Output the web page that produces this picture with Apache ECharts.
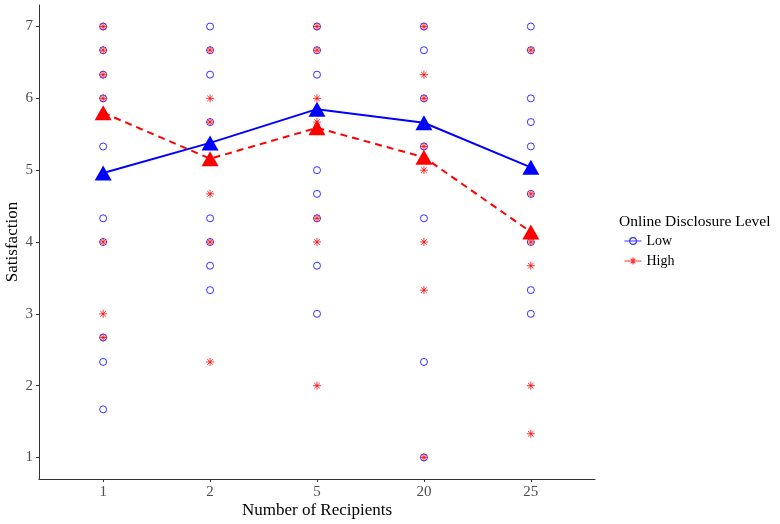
<!DOCTYPE html>
<html>
<head>
<meta charset="utf-8">
<script src="https://cdn.jsdelivr.net/npm/echarts@6/dist/echarts.min.js"></script>
<style>html,body{margin:0;padding:0;background:#fff}#c{width:780px;height:524px}</style>
</head>
<body>
<div id="c"></div>
<script>
// Categories (Number of Recipients)
var categories = ['1', '2', '5', '20', '25'];
var yTicks = [1, 2, 3, 4, 5, 6, 7];

// Individual observations, Low disclosure (per category)
var lowC1 = [7, 6.67, 6.33, 6, 5.33, 4.33, 4, 2.67, 2.33, 1.67];
var lowC2 = [7, 6.67, 6.33, 5.67, 4.33, 4, 3.67, 3.33];
var lowC5 = [7, 6.67, 6.33, 5, 4.67, 4.33, 3.67, 3];
var lowC20 = [7, 6.67, 6, 5.33, 4.33, 2.33, 1];
var lowC25 = [7, 6.67, 6, 5.67, 5.33, 4.67, 4, 3.33, 3];

// Individual observations, High disclosure (per category)
var highC1 = [7, 6.67, 6.33, 6, 4, 3, 2.67];
var highC2 = [6.67, 6, 5.67, 4.67, 4, 2.33];
var highC5 = [7, 6.67, 6, 5.67, 4.33, 4, 2];
var highC20 = [7, 6.33, 6, 5.33, 5, 4, 3.33, 1];
var highC25 = [6.67, 4.67, 4, 3.67, 2, 1.33];

// Means
var lowMeans = [4.96, 5.38, 5.85, 5.66, 5.04];
var highMeans = [5.80, 5.16, 5.59, 5.18, 4.14];

var lowGroups = [lowC1, lowC2, lowC5, lowC20, lowC25];
var highGroups = [highC1, highC2, highC5, highC20, highC25];

function toPoints(groups) {
  var out = [];
  groups.forEach(function (g, i) {
    g.forEach(function (v) { out.push([i + 1, v]); });
  });
  return out;
}
function meanPoints(arr) {
  return arr.map(function (v, i) { return [i + 1, v]; });
}

var FONT = 'Liberation Serif';
var BLUE = '#0000ff';
var RED = '#ff0000';
var asterisk = 'path://M5,0L5,10M0,5L10,5M1.5,1.5L8.5,8.5M8.5,1.5L1.5,8.5';
var lowIcon = 'path://M0,5L20,5M14,5A4,4,0,1,1,6,5A4,4,0,1,1,14,5';
var highIcon = 'path://M0,5L20,5M10,1L10,9M6,5L14,5M7.2,2.2L12.8,7.8M12.8,2.2L7.2,7.8';

var chart = echarts.init(document.getElementById('c'), null, {renderer: 'canvas'});
chart.setOption({
  animation: false,
  backgroundColor: '#ffffff',
  title: {
    text: 'Online Disclosure Level',
    left: 619,
    top: 214,
    padding: 0,
    textStyle: {fontFamily: FONT, fontSize: 15.5, fontWeight: 'normal', color: '#000'}
  },
  legend: {
    orient: 'vertical',
    left: 622,
    top: 234,
    padding: 0,
    itemWidth: 17,
    itemHeight: 9,
    itemGap: 6,
    selectedMode: false,
    textStyle: {fontFamily: FONT, fontSize: 14, color: '#000'},
    data: [
      {name: 'Low', icon: lowIcon, itemStyle: {color: 'none', borderColor: BLUE, borderWidth: 1.2}},
      {name: 'High', icon: highIcon, itemStyle: {color: 'none', borderColor: RED, borderWidth: 1.2}}
    ]
  },
  grid: {left: 39, right: 185, top: 5, bottom: 45, outerBoundsMode: 'none', containLabel: false},
  xAxis: {
    type: 'value',
    min: 0.4,
    max: 5.6,
    name: 'Number of Recipients',
    nameLocation: 'middle',
    nameGap: 23,
    nameMoveOverlap: false,
    nameTextStyle: {fontFamily: FONT, fontSize: 17, color: '#000'},
    axisLine: {show: true, lineStyle: {color: '#333', width: 1}},
    axisTick: {show: true, length: 3, customValues: [1, 2, 3, 4, 5], lineStyle: {color: '#333'}},
    axisLabel: {
      customValues: [1, 2, 3, 4, 5],
      margin: 6,
      fontFamily: FONT, fontSize: 15, color: '#4d4d4d',
      formatter: function (v) { return categories[Math.round(v) - 1]; }
    },
    splitLine: {show: false}
  },
  yAxis: {
    type: 'value',
    min: 0.7,
    max: 7.3,
    name: 'Satisfaction',
    nameLocation: 'middle',
    nameGap: 18,
    nameMoveOverlap: false,
    nameRotate: 90,
    nameTextStyle: {fontFamily: FONT, fontSize: 17, color: '#000'},
    axisLine: {show: true, lineStyle: {color: '#333', width: 1}},
    axisTick: {show: true, length: 3, customValues: yTicks, lineStyle: {color: '#333'}},
    axisLabel: {
      customValues: yTicks,
      margin: 6,
      fontFamily: FONT, fontSize: 15, color: '#4d4d4d'
    },
    splitLine: {show: false}
  },
  series: [
    {
      name: 'Low',
      type: 'scatter',
      symbol: 'circle',
      symbolSize: 7,
      itemStyle: {color: 'transparent', borderColor: BLUE, borderWidth: 1},
      data: toPoints(lowGroups),
      z: 2
    },
    {
      name: 'High',
      type: 'scatter',
      symbol: asterisk,
      symbolSize: 8,
      itemStyle: {color: 'transparent', borderColor: RED, borderWidth: 1},
      data: toPoints(highGroups),
      z: 3
    },
    {
      name: 'Low mean',
      type: 'line',
      symbol: 'triangle',
      symbolSize: [17, 15],
      showAllSymbol: true,
      itemStyle: {color: BLUE},
      lineStyle: {color: BLUE, width: 2},
      data: meanPoints(lowMeans),
      z: 4
    },
    {
      name: 'High mean',
      type: 'line',
      symbol: 'triangle',
      symbolSize: [17, 15],
      showAllSymbol: true,
      itemStyle: {color: RED},
      lineStyle: {color: RED, width: 2, type: [7, 5]},
      data: meanPoints(highMeans),
      z: 5
    }
  ]
});
</script>
</body>
</html>
